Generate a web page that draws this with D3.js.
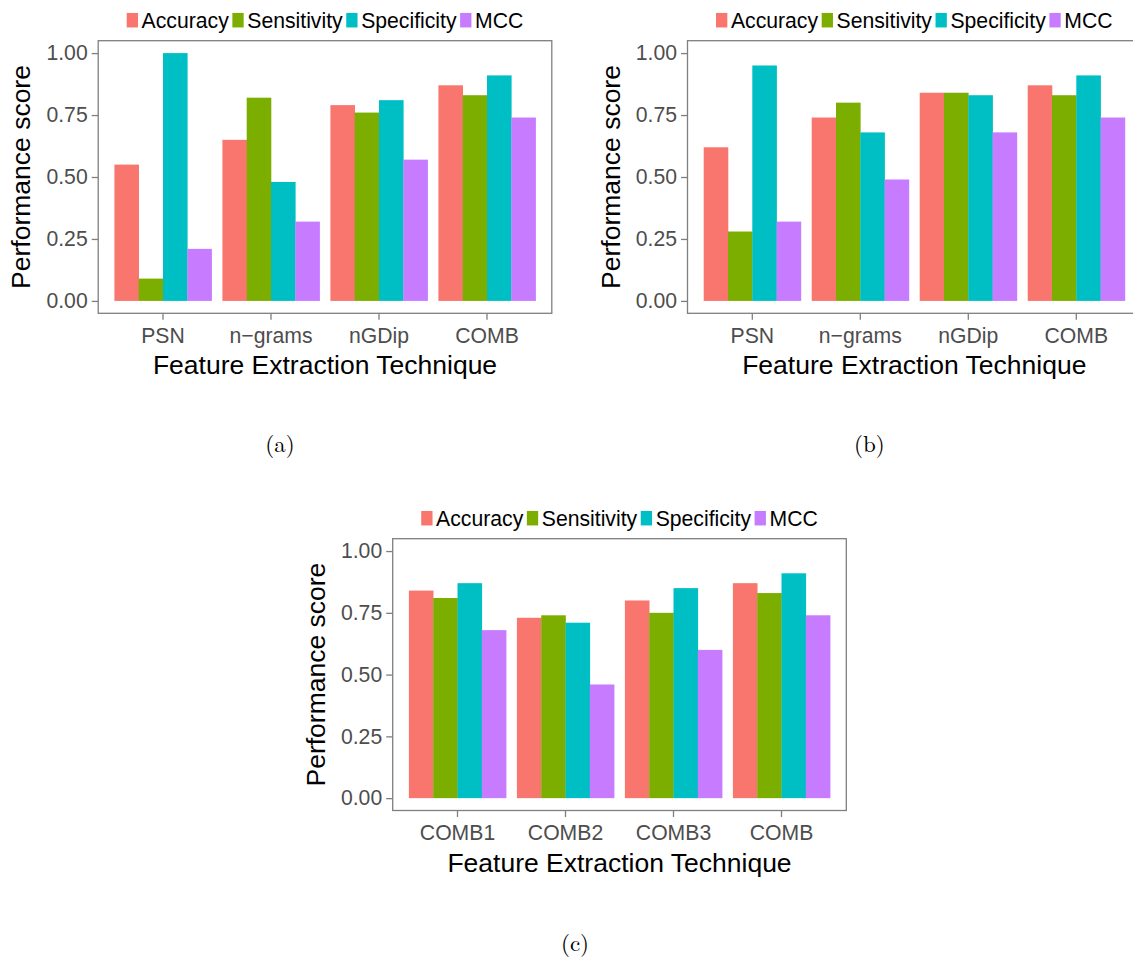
<!DOCTYPE html>
<html>
<head>
<meta charset="utf-8">
<script src="https://cdn.jsdelivr.net/npm/d3@7/dist/d3.min.js"></script>
<style>
  body { margin: 0; background: #fff; }
  svg { display: block; }
  text { font-family: "Liberation Sans", Arial, Helvetica, sans-serif; }
</style>
</head>
<body>
<svg id="chart" width="1133" height="958"></svg>
<script>
// series shown in every panel
var series = ["Accuracy", "Sensitivity", "Specificity", "MCC"];
var yTicks = [0, 0.25, 0.5, 0.75, 1];

// (a)
var catsA = ["PSN", "n\u2212grams", "nGDip", "COMB"];
var valuesA = [
    [0.55, 0.09, 1.00, 0.21],
    [0.65, 0.82, 0.48, 0.32],
    [0.79, 0.76, 0.81, 0.57],
    [0.87, 0.83, 0.91, 0.74]
];

// (b)
var catsB = ["PSN", "n\u2212grams", "nGDip", "COMB"];
var valuesB = [
    [0.62, 0.28, 0.95, 0.32],
    [0.74, 0.80, 0.68, 0.49],
    [0.84, 0.84, 0.83, 0.68],
    [0.87, 0.83, 0.91, 0.74]
];

// (c)
var catsC = ["COMB1", "COMB2", "COMB3", "COMB"];
var valuesC = [
    [0.84, 0.81, 0.87, 0.68],
    [0.73, 0.74, 0.71, 0.46],
    [0.80, 0.75, 0.85, 0.60],
    [0.87, 0.83, 0.91, 0.74]
];

var color = d3.scaleOrdinal()
    .domain(series)
    .range(["#F8766D", "#7CAE00", "#00BFC4", "#C77CFF"]);

var svg = d3.select("#chart");

//参数: 左上角, 宽高, 类别, 数值, 标题
function drawPanel(left, top, w, h, cats, values, caption, capX, capY) {
    var g = svg.append("g");

    var x = d3.scaleBand()
        .domain(cats)
        .range([left, left + w])
        .paddingInner(0.1)
        .paddingOuter(0.15);

    var xs = d3.scaleBand()
        .domain(series)
        .range([0, x.bandwidth()])
        .padding(0);

    var y = d3.scaleLinear()
        .domain([-0.05, 1.05])
        .range([top + h, top]);

    // bars
    g.selectAll("g.cat")
        .data(cats)
        .enter().append("g")
        .attr("class", "cat")
        .attr("transform", function (d) { return "translate(" + x(d) + ",0)"; })
        .selectAll("rect")
        .data(function (d, i) {
            return series.map(function (s, j) { return { key: s, value: values[i][j] }; });
        })
        .enter().append("rect")
        .attr("x", function (d) { return xs(d.key); })
        .attr("width", xs.bandwidth() + 0.3)
        .attr("y", function (d) { return y(d.value); })
        .attr("height", function (d) { return y(0) - y(d.value); })
        .attr("fill", function (d) { return color(d.key); });

    // panel border
    g.append("rect")
        .attr("x", left)
        .attr("y", top)
        .attr("width", w)
        .attr("height", h)
        .attr("fill", "none")
        .attr("stroke", "#7F7F7F")
        .attr("stroke-width", 1.3);

    var yAxis = g.append("g")
        .attr("transform", "translate(" + left + ",0)")
        .call(d3.axisLeft(y)
            .tickValues(yTicks)
            .tickFormat(d3.format(".2f"))
            .tickSize(6.5)
            .tickSizeOuter(0)
            .tickPadding(4));

    var xAxis = g.append("g")
        .attr("transform", "translate(0," + (top + h) + ")")
        .call(d3.axisBottom(x)
            .tickSize(6.5)
            .tickSizeOuter(0)
            .tickPadding(8));

    [yAxis, xAxis].forEach(function (a) {
        a.select(".domain").remove();
        a.selectAll("line").attr("stroke", "#7F7F7F").attr("stroke-width", 1.3);
        a.selectAll("text")
            .attr("fill", "#4D4D4D")
            .style("font-size", "21.2px");
    });

    // axis titles
    g.append("text")
        .attr("x", left + w / 2)
        .attr("y", top + h + 61)
        .attr("text-anchor", "middle")
        .style("font-size", "26.5px")
        .attr("fill", "#000")
        .text("Feature Extraction Technique");

    g.append("text")
        .attr("transform", "translate(" + (left - 68) + "," + (top + h / 2) + ") rotate(-90)")
        .attr("text-anchor", "middle")
        .style("font-size", "26.5px")
        .attr("fill", "#000")
        .text("Performance score");

    // legend on top, centred over the panel
    var leg = g.append("g");
    var keyW = 11.3, keyH = 14.5, gap = 3.6;
    var cy = top - 20.5;
    var cx = 0;
    series.forEach(function (s) {
        leg.append("rect")
            .attr("x", cx)
            .attr("y", cy - keyH / 2)
            .attr("width", keyW)
            .attr("height", keyH)
            .attr("fill", color(s));
        cx += keyW + gap;
        var t = leg.append("text")
            .attr("x", cx)
            .attr("y", cy)
            .attr("dy", "0.36em")
            .style("font-size", "21.2px")
            .attr("fill", "#000")
            .text(s);
        cx += t.node().getComputedTextLength() + gap;
    });
    cx -= gap;
    leg.attr("transform", "translate(" + (left + w / 2 - cx / 2) + ",0)");

    // sub-figure caption
    svg.append("text")
        .attr("x", capX)
        .attr("y", capY)
        .attr("text-anchor", "middle")
        .style("font-family", "'Latin Modern Roman', 'Liberation Serif', 'DejaVu Serif', serif")
        .style("font-size", "23px")
        .attr("fill", "#000")
        .text(caption);
}

drawPanel(98.2, 40.7, 453.6, 272.6, catsA, valuesA, "(a)", 280, 452);
drawPanel(687.5, 40.7, 453.6, 272.6, catsB, valuesB, "(b)", 869.3, 452);
drawPanel(392.7, 538.7, 453.6, 271.8, catsC, valuesC, "(c)", 575, 951);
</script>
</body>
</html>
